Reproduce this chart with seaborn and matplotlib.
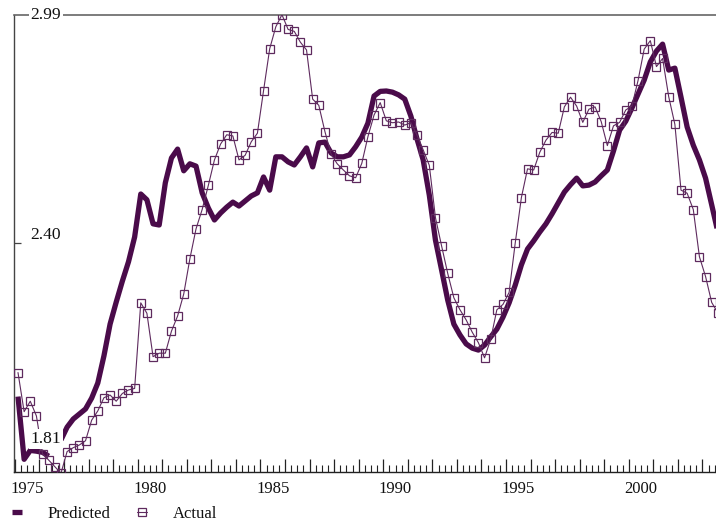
import numpy as np
import pandas as pd
import matplotlib
matplotlib.use("Agg")
import matplotlib.pyplot as plt
import matplotlib.transforms as mtransforms
from matplotlib.ticker import FixedLocator
import seaborn as sns

# ---------------- data ----------------
periods = pd.period_range("1975Q1", "2003Q3", freq="Q")
year_labels = ["1975", "1980", "1985", "1990", "1995", "2000"]
ytick_values = [1.81, 2.40, 2.99]
ytick_labels = ["1.81", "2.40", "2.99"]

actual = [
    2.066, 1.965, 1.992, 1.954, 1.856, 1.840, 1.823, 1.806,
    1.862, 1.872, 1.879, 1.890, 1.943, 1.967, 2.001, 2.008,
    1.992, 2.012, 2.021, 2.025, 2.246, 2.219, 2.107, 2.116,
    2.116, 2.173, 2.212, 2.269, 2.360, 2.437, 2.487, 2.549,
    2.615, 2.656, 2.680, 2.677, 2.615, 2.627, 2.662, 2.684,
    2.794, 2.902, 2.959, 2.990, 2.952, 2.947, 2.919, 2.899,
    2.772, 2.756, 2.688, 2.630, 2.605, 2.589, 2.574, 2.569,
    2.606, 2.675, 2.731, 2.763, 2.716, 2.711, 2.713, 2.705,
    2.711, 2.679, 2.641, 2.601, 2.466, 2.393, 2.322, 2.259,
    2.228, 2.202, 2.170, 2.143, 2.104, 2.152, 2.228, 2.242,
    2.273, 2.401, 2.518, 2.592, 2.589, 2.635, 2.666, 2.686,
    2.684, 2.752, 2.777, 2.754, 2.712, 2.746, 2.752, 2.714,
    2.652, 2.703, 2.712, 2.744, 2.754, 2.820, 2.901, 2.923,
    2.856, 2.877, 2.778, 2.707, 2.537, 2.529, 2.487, 2.365,
    2.314, 2.247, 2.220,
]

predicted = [
    2.004, 1.842, 1.865, 1.863, 1.860, 1.850, np.nan, 1.892,
    1.925, 1.946, 1.959, 1.972, 2.000, 2.039, 2.109, 2.191,
    2.248, 2.302, 2.352, 2.416, 2.527, 2.512, 2.450, 2.447,
    2.556, 2.620, 2.643, 2.587, 2.605, 2.599, 2.530, 2.491,
    2.460, 2.478, 2.493, 2.506, 2.496, 2.509, 2.522, 2.530,
    2.571, 2.537, 2.623, 2.623, 2.610, 2.602, 2.623, 2.646,
    2.597, 2.659, 2.661, 2.633, 2.623, 2.623, 2.628, 2.649,
    2.674, 2.710, 2.780, 2.792, 2.793, 2.790, 2.783, 2.772,
    2.728, 2.669, 2.615, 2.524, 2.408, 2.331, 2.253, 2.191,
    2.163, 2.140, 2.129, 2.124, 2.137, 2.158, 2.178, 2.209,
    2.246, 2.292, 2.344, 2.385, 2.406, 2.429, 2.450, 2.476,
    2.504, 2.532, 2.551, 2.568, 2.548, 2.550, 2.558, 2.574,
    2.589, 2.638, 2.692, 2.715, 2.749, 2.785, 2.821, 2.868,
    2.896, 2.914, 2.847, 2.852, 2.777, 2.700, 2.653, 2.615,
    2.568, 2.499, 2.429,
]

# ---------------- styling ----------------
sns.set_theme(style="white")
plt.rcParams["font.family"] = ["Liberation Serif", "DejaVu Serif"]
plt.rcParams["font.size"] = 12

PRED_COLOR = "#4a0b4a"
ACT_COLOR = "#5e2a5e"

df = pd.DataFrame({
    "q": np.arange(len(periods)),
    "year": periods.year,
    "Actual": actual,
    "Predicted": predicted,
})
# split predicted at its missing value so the line breaks there
df["seg"] = df["Predicted"].isna().cumsum()
pred_df = df.dropna(subset=["Predicted"])

fig = plt.figure(figsize=(7.16, 5.25), dpi=100)
ax = fig.add_axes([14 / 716, 1 - 471.7 / 525, 1 - 14 / 716, (471.7 - 14.7) / 525])

for k, (s, sub) in enumerate(pred_df.groupby("seg")):
    sns.lineplot(data=sub, x="q", y="Predicted", ax=ax, color=PRED_COLOR,
                 linewidth=3.8, label="Predicted" if k == 0 else None,
                 solid_joinstyle="round", solid_capstyle="butt", zorder=2)

sns.lineplot(data=df, x="q", y="Actual", ax=ax, color=ACT_COLOR, linewidth=0.8,
             marker="s", markersize=5.7, markerfacecolor="none",
             markeredgecolor=ACT_COLOR, markeredgewidth=0.9,
             label="Actual", zorder=3)

ax.set_xlim(-0.65, 113.7)
ax.set_ylim(1.81, 2.99)
ax.set_xlabel("")
ax.set_ylabel("")

# spines
ax.spines["right"].set_visible(False)
ax.spines["left"].set_color("#444444")
ax.spines["left"].set_linewidth(1.0)
ax.spines["top"].set_color("#666666")
ax.spines["top"].set_linewidth(1.2)
ax.spines["bottom"].set_color("#222222")
ax.spines["bottom"].set_linewidth(1.0)

# x ticks: long ticks at year boundaries, short ticks at quarter boundaries
n = len(periods)
year_bounds = [i - 0.5 for i in range(0, n + 1, 4)]
quarter_bounds = [i - 0.5 for i in range(0, n + 1)]
ax.xaxis.set_major_locator(FixedLocator(year_bounds))
ax.xaxis.set_minor_locator(FixedLocator(quarter_bounds))
ax.tick_params(axis="x", which="major", direction="in", length=9.2, width=0.9,
               color="#222222", bottom=True, labelbottom=False)
ax.tick_params(axis="x", which="minor", direction="in", length=4.8, width=0.8,
               color="#222222", bottom=True)

# year labels centred in their year
trans_x = mtransforms.blended_transform_factory(ax.transData, ax.transAxes)
for lab in year_labels:
    first_q = df.index[df["year"] == int(lab)][0]
    ax.text(first_q + 1.5, -0.038, lab, transform=trans_x, ha="center",
            va="center", fontsize=12, color="#111111")

# y ticks
ax.yaxis.set_major_locator(FixedLocator([2.40]))
ax.tick_params(axis="y", which="major", direction="in", length=5.2, width=0.9,
               color="#444444", left=True, labelleft=False)

trans_y = mtransforms.blended_transform_factory(ax.transAxes, ax.transData)
offsets = {"2.99": 0, "2.40": 6, "1.81": 23.5}
for v, lab in zip(ytick_values, ytick_labels):
    ax.annotate(lab, xy=(0.0456, v), xycoords=trans_y,
                xytext=(0, offsets[lab]), textcoords="offset points",
                ha="center", va="center", fontsize=12.6, color="#111111",
                bbox=dict(boxstyle="square,pad=0.12", fc="white", ec="none"),
                zorder=5, annotation_clip=False)

leg = ax.legend(loc="upper left", bbox_to_anchor=(12 / 716, 1 - 506 / 525),
                bbox_transform=fig.transFigure, ncol=2, frameon=False,
                handlelength=0.6, handletextpad=1.55, columnspacing=1.6,
                borderpad=0, borderaxespad=0, fontsize=12)
for t in leg.get_texts():
    t.set_color("#111111")

fig.savefig("out.png", dpi=100)
